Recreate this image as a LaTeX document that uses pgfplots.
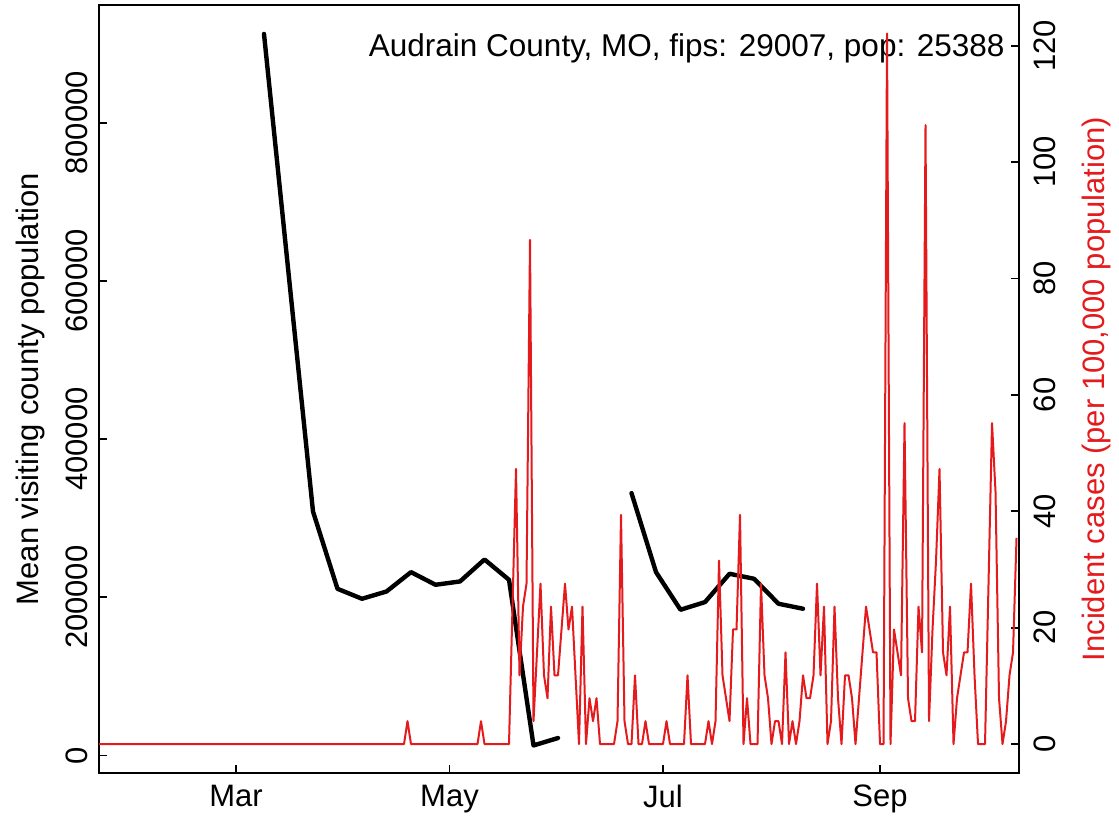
\documentclass[border=0pt]{standalone}
\usepackage{pgfplots}
\pgfplotsset{compat=1.18}
\usepackage{fontspec}
\setmainfont{Liberation Sans}
\definecolor{cred}{HTML}{E41A1C}
\newcommand\fsz{\fontsize{15.5}{18}\selectfont}

% days counted from 1 March 2020
\begin{document}
\begin{tikzpicture}
\begin{axis}[
    name=ax,
    scale only axis, width=460pt, height=384pt,
    xmin=-39.14, xmax=223.71, ymin=-22250, ymax=949000,
    xtick={0,61,122,184}, xticklabels={Mar,May,Jul,Sep},
    ytick={0,200000,400000,600000,800000},
    yticklabels={0,200000,400000,600000,800000},
    scaled y ticks=false,
    xtick pos=bottom, ytick pos=left, tick align=inside,
    major tick length=4pt,
    tick style={black, line width=0.85pt},
    axis line style={line width=0.85pt},
    tick label style={font=\fsz}, label style={font=\fsz},
    yticklabel style={rotate=90, anchor=south},
    yticklabel shift=2pt, xticklabel shift=2.5pt,
    ylabel={Mean visiting county population},
    ylabel style={at={([xshift=-23.4pt]rel axis cs:0,0.5)}, rotate=0, anchor=south},
]
\addplot[black, line width=2.2pt, line join=round, line cap=round] coordinates {
    (8,912400) (15,610400) (22,308500) (29,210700) (36,198100) (43,207300)
    (50,231800) (57,215800) (64,220000) (71,247800) (78,222100) (85,12600)
    (92,22000)
};
\addplot[black, line width=2.2pt, line join=round, line cap=round] coordinates {
    (113,331700) (120,231800) (127,184200) (134,193900) (141,229700)
    (148,223400) (155,191800) (162,185500)
};
\node[anchor=north east, inner sep=0pt, font=\fontsize{15.75}{18}\selectfont]
    at ([xshift=-7pt,yshift=-14pt]rel axis cs:1,1)
    {Audrain County, MO, fips: 29007, pop: 25388};
\end{axis}

\begin{axis}[
    scale only axis, width=460pt, height=384pt,
    xmin=-39.14, xmax=223.71, ymin=-4.97, ymax=127,
    axis x line=none, axis y line*=right,
    ytick={0,20,40,60,80,100,120},
    yticklabels={0,20,40,60,80,100,120},
    scaled y ticks=false,
    tick align=inside, major tick length=4pt,
    tick style={black, line width=0.85pt},
    axis line style={line width=0.85pt},
    tick label style={font=\fsz}, label style={font=\fsz},
    yticklabel style={rotate=90, anchor=north},
    yticklabel shift=4pt,
    ylabel={Incident cases (per 100,000 population)},
    ylabel style={color=cred, at={([xshift=27.9pt]rel axis cs:1,0.5)}, rotate=0, anchor=north},
]
\addplot[cred, line width=1pt, line join=round] coordinates {
    (-40,0) (-39,0) (-38,0) (-37,0) (-36,0) (-35,0) (-34,0) (-33,0) (-32,0) (-31,0)
    (-30,0) (-29,0) (-28,0) (-27,0) (-26,0) (-25,0) (-24,0) (-23,0) (-22,0) (-21,0)
    (-20,0) (-19,0) (-18,0) (-17,0) (-16,0) (-15,0) (-14,0) (-13,0) (-12,0) (-11,0)
    (-10,0) (-9,0) (-8,0) (-7,0) (-6,0) (-5,0) (-4,0) (-3,0) (-2,0) (-1,0)
    (0,0) (1,0) (2,0) (3,0) (4,0) (5,0) (6,0) (7,0) (8,0) (9,0)
    (10,0) (11,0) (12,0) (13,0) (14,0) (15,0) (16,0) (17,0) (18,0) (19,0)
    (20,0) (21,0) (22,0) (23,0) (24,0) (25,0) (26,0) (27,0) (28,0) (29,0)
    (30,0) (31,0) (32,0) (33,0) (34,0) (35,0) (36,0) (37,0) (38,0) (39,0)
    (40,0) (41,0) (42,0) (43,0) (44,0) (45,0) (46,0) (47,0) (48,0) (49,3.94)
    (50,0) (51,0) (52,0) (53,0) (54,0) (55,0) (56,0) (57,0) (58,0) (59,0)
    (60,0) (61,0) (62,0) (63,0) (64,0) (65,0) (66,0) (67,0) (68,0) (69,0)
    (70,3.94) (71,0) (72,0) (73,0) (74,0) (75,0) (76,0) (77,0) (78,0) (79,23.63)
    (80,47.27) (81,11.82) (82,23.63) (83,27.57) (84,86.65) (85,3.94) (86,15.76)
    (87,27.57) (88,11.82) (89,7.88) (90,23.63) (91,11.82) (92,11.82) (93,19.69)
    (94,27.57) (95,19.69) (96,23.63) (97,11.82) (98,0) (99,23.63) (100,0)
    (101,7.88) (102,3.94) (103,7.88) (104,0) (105,0) (106,0) (107,0) (108,0)
    (109,3.94) (110,39.39) (111,3.94) (112,0) (113,0) (114,11.82) (115,0) (116,0)
    (117,3.94) (118,0) (119,0) (120,0) (121,0) (122,0) (123,3.94) (124,0)
    (125,0) (126,0) (127,0) (128,0) (129,11.82) (130,0) (131,0) (132,0) (133,0)
    (134,0) (135,3.94) (136,0) (137,3.94) (138,31.51) (139,11.82) (140,7.88)
    (141,3.94) (142,19.69) (143,19.69) (144,39.39) (145,0) (146,7.88) (147,0)
    (148,0) (149,0) (150,27.57) (151,11.82) (152,7.88) (153,0) (154,3.94)
    (155,3.94) (156,0) (157,15.76) (158,0) (159,3.94) (160,0) (161,3.94)
    (162,11.82) (163,7.88) (164,7.88) (165,11.82) (166,27.57) (167,11.82)
    (168,23.63) (169,0) (170,3.94) (171,23.63) (172,7.88) (173,0) (174,11.82)
    (175,11.82) (176,7.88) (177,0) (178,7.88) (179,15.76) (180,23.63) (181,19.69)
    (182,15.76) (183,15.76) (184,0) (185,0) (186,122.10) (187,0) (188,19.69)
    (189,15.76) (190,11.82) (191,55.14) (192,7.88) (193,3.94) (194,3.94)
    (195,23.63) (196,15.76) (197,106.35) (198,3.94) (199,19.69) (200,31.51)
    (201,47.27) (202,15.76) (203,11.82) (204,23.63) (205,0) (206,7.88)
    (207,11.82) (208,15.76) (209,15.76) (210,27.57) (211,11.82) (212,0) (213,0)
    (214,0) (215,27.57) (216,55.14) (217,43.33) (218,7.88) (219,0) (220,3.94)
    (221,11.82) (222,15.76) (223,35.45)
};
\end{axis}
\pgfresetboundingbox
\path[use as bounding box] ([xshift=-49.5pt,yshift=-21.85pt]ax.south west)
    rectangle ([xshift=50pt,yshift=2.5pt]ax.north east);
\end{tikzpicture}
\end{document}
